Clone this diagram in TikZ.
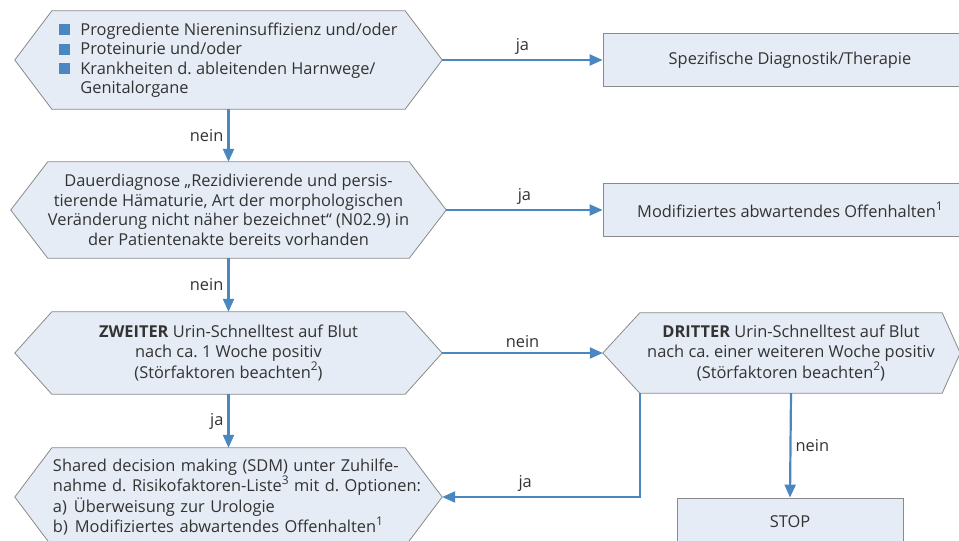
\documentclass[tikz,border=0pt]{standalone}
\usepackage{fontspec}
\setmainfont{Open Sans}
\usetikzlibrary{arrows.meta,backgrounds}
\frenchspacing

\definecolor{flowblue}{HTML}{4A87C0}
\definecolor{boxfill}{HTML}{E6ECF5}
\definecolor{boxline}{HTML}{8A8A8A}
\definecolor{txtgray}{HTML}{333333}

\tikzset{
  flow/.style={x=1pt, y=-1pt, font=\fontsize{16.4}{19.5}\selectfont, text=txtgray},
  hexa/.style={inner sep=0pt, minimum width=353pt, align=center},
  hexline/.style={draw=boxline, fill=boxfill, line width=0.8pt},
  plainbox/.style={draw=boxline, fill=boxfill, line width=0.8pt, inner sep=0pt},
  arr/.style={draw=flowblue, line width=2.2pt, -{Triangle[length=13pt,width=11pt]}},
  lbl/.style={text=txtgray, inner sep=4pt}
}
\newcommand{\sq}{\textcolor{flowblue}{\rule{11pt}{11pt}}\hspace{10pt}}
\newcommand{\hoch}[1]{\raisebox{0.45em}{\fontsize{12}{12}\selectfont #1}}
% hexagon behind a node: node, left tip, right tip
\newcommand{\hexback}[3]{
  \draw[hexline] (#1.north west) -- (#1.north east) -- ([xshift=#3]#1.east) coordinate (#1-r)
    -- (#1.south east) -- (#1.south west) -- ([xshift=-#2]#1.west) coordinate (#1-l) -- cycle;
}

\begin{document}
\begin{tikzpicture}[flow]
  \useasboundingbox (0,0) rectangle (959,541);
  % questions
  \node[hexa, minimum height=98pt, align=left] (q1) at (228.5,60)
    {\sq Progrediente Niereninsuffizienz und/oder\\
     \sq Proteinurie und/oder\\
     \sq Krankheiten d. ableitenden Harnwege/\\
     \hspace*{21pt}Genitalorgane};
  \node[hexa, minimum height=96pt] (q2) at (228.5,210)
    {Dauerdiagnose „Rezidivierende und persis-\\
     tierende Hämaturie, Art der morphologischen\\
     Veränderung nicht näher bezeichnet“ (N02.9) in\\
     der Patientenakte bereits vorhanden};
  \node[hexa, minimum height=82pt] (q3) at (228.5,353)
    {\textbf{ZWEITER} Urin-Schnelltest auf Blut\\
     nach ca. 1 Woche positiv\\
     (Störfaktoren beachten\hoch{2})};
  \node[hexa, minimum height=98pt, text width=353pt, align=left,
        font=\fontsize{16.4}{20.5}\selectfont] (q4) at (228.5,497)
    {\mbox{\hspace*{1pt}Shared decision making (SDM) unter Zuhilfe-}\\
     \mbox{\hspace*{1pt}nahme d. Risikofaktoren-Liste\hoch{3} mit d. Optionen:}\\
     \mbox{\hspace*{1pt}a)\hspace{7pt}Überweisung zur Urologie}\\
     \mbox{\hspace*{1pt}b)\hspace{7pt}Modifiziertes abwartendes Offenhalten\hoch{1}}};
  \node[hexa, minimum width=302pt, minimum height=80pt] (q5) at (791,353)
    {\textbf{DRITTER} Urin-Schnelltest auf Blut\\
     nach ca. einer weiteren Woche positiv\\
     (Störfaktoren beachten\hoch{2})};
  % results
  \node[plainbox, minimum width=374pt, minimum height=53pt] (r1) at (790,60)
    {Spezifische Diagnostik/Therapie};
  \node[plainbox, minimum width=374pt, minimum height=53pt] (r2) at (790,210)
    {Modifiziertes abwartendes Offenhalten\hoch{1}};
  \node[plainbox, minimum width=226pt, minimum height=48pt] (stop) at (790,522) {STOP};

  \begin{scope}[on background layer]
    \hexback{q1}{37pt}{37pt}
    \hexback{q2}{37pt}{37pt}
    \hexback{q3}{37pt}{37pt}
    \hexback{q4}{37pt}{37pt}
    \hexback{q5}{37pt}{18pt}
  \end{scope}

  % connectors
  \draw[arr] (q1-r) -- node[lbl, above] {ja} (r1.west);
  \draw[arr] (q1.south) -- node[lbl, left] {nein} (q2.north);
  \draw[arr] (q2-r) -- node[lbl, above] {ja} (r2.west);
  \draw[arr] (q2.south) -- node[lbl, left] {nein} (q3.north);
  \draw[arr] (q3-r) -- node[lbl, above] {nein} (q5-l);
  \draw[arr] (q3.south) -- node[lbl, left] {ja} (q4.north);
  \draw[arr] (q5.south west) |- node[lbl, above, pos=0.79] {ja} (q4-r);
  \draw[arr] (q5.south) -- node[lbl, right] {nein} (stop.north);
\end{tikzpicture}
\end{document}
